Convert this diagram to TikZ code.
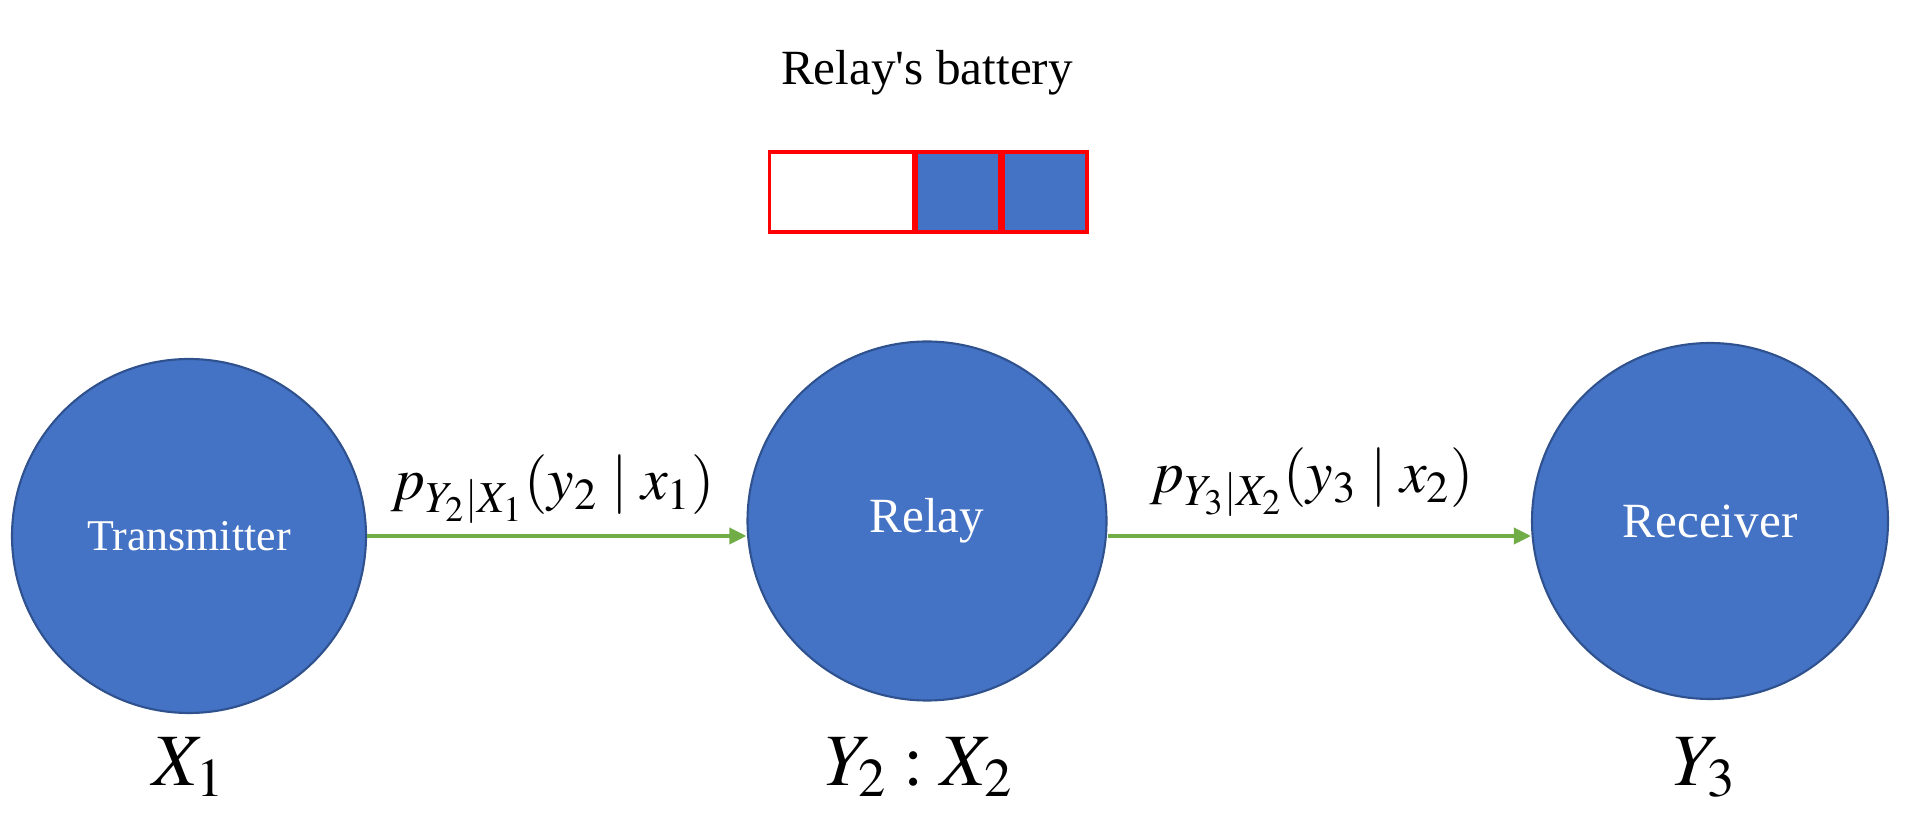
\documentclass[tikz,border=0pt]{standalone}
\usepackage{mathptmx}
\usepackage[no-math]{fontspec}
\setmainfont{Liberation Serif}
\usetikzlibrary{arrows.meta,positioning}
\definecolor{nodeblue}{HTML}{4472C4}
\definecolor{edgeblue}{HTML}{2F528F}
\definecolor{linkgreen}{HTML}{70AD47}

\begin{document}
\begin{tikzpicture}[
    station/.style={circle, draw=edgeblue, fill=nodeblue, line width=0.6pt, inner sep=0pt, text=white, font=\fontsize{14}{16}\selectfont},
    cell/.style={rectangle, draw=red, line width=0.9pt, minimum height=0.8cm, inner sep=0pt},
    link/.style={-{Triangle[length=0.17cm,width=0.16cm]}, draw=linkgreen, line width=1pt},
    mathlabel/.style={font=\fontsize{17}{20}\selectfont}
]
\useasboundingbox (0,0) rectangle (19.08,-8.32);

% battery
\node[font=\fontsize{14}{16}\selectfont, anchor=base] (title) at (9.27,-0.85) {Relay\textquotesingle s battery};
\node[cell, minimum width=1.44cm, anchor=west] (c1) at (7.68,-1.92) {};
\node[cell, fill=nodeblue, minimum width=0.83cm, right=0cm of c1] (c2) {};
\node[cell, fill=nodeblue, minimum width=0.84cm, right=0cm of c2] (c3) {};

% stations
\node[station, minimum size=3.54cm, font=\fontsize{12.5}{15}\selectfont] (tx) at (1.89,-5.36) {Transmitter};
\node[station, minimum size=3.59cm] (relay) at (9.27,-5.21) {Relay};
\node[station, minimum size=3.56cm] (rx) at (17.10,-5.21) {Receiver};

\draw[link] (tx.east) -- (relay.west |- tx.east);
\draw[link] (relay.east |- tx.east) -- (rx.west |- tx.east);

\node[mathlabel, anchor=base] (p1) at (5.53,-5.00) {$p_{Y_2|X_1}(y_2\mid x_1)$};
\node[mathlabel, anchor=base] (p2) at (13.12,-4.93) {$p_{Y_3|X_2}(y_3\mid x_2)$};

\node[mathlabel, font=\fontsize{21}{25}\selectfont, anchor=base] (x1) at (1.89,-7.85) {$X_1$};
\node[mathlabel, font=\fontsize{21}{25}\selectfont, anchor=base] (y2x2) at (9.19,-7.85) {$Y_2 : X_2$};
\node[mathlabel, font=\fontsize{21}{25}\selectfont, anchor=base] (y3) at (17.05,-7.85) {$Y_3$};

\end{tikzpicture}
\end{document}
